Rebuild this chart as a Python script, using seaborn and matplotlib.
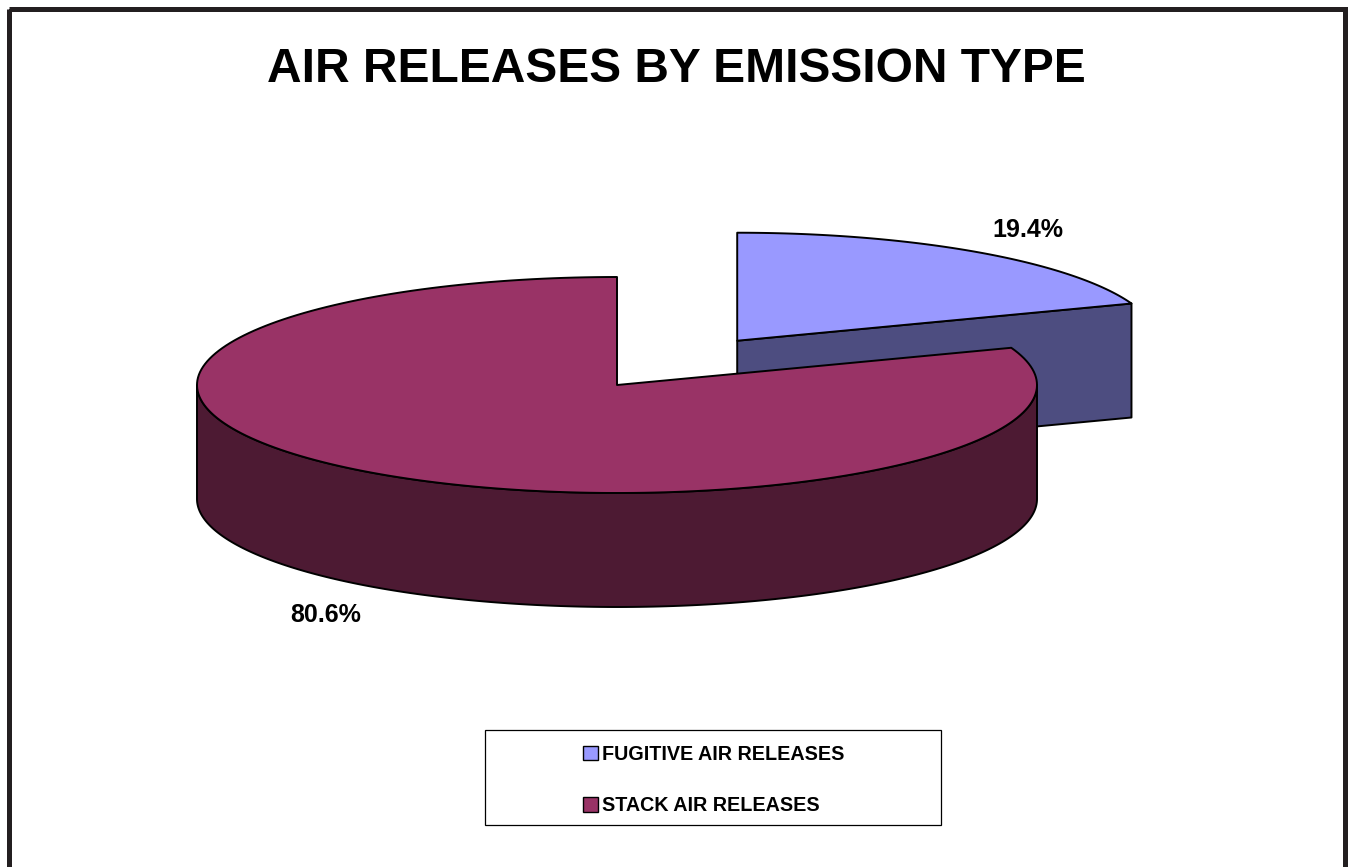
import numpy as np
import matplotlib
matplotlib.use("Agg")
import matplotlib.pyplot as plt
import seaborn as sns
from matplotlib.patches import Polygon, Rectangle

# Air releases split by emission type (percent of total)
categories = ["FUGITIVE AIR RELEASES", "STACK AIR RELEASES"]
shares = [19.4, 80.6]
top_colors = ["#9999FF", "#993366"]
side_colors = ["#4D4D80", "#4D1A33"]
explode = [0.5, 0.0]

title = "AIR RELEASES BY EMISSION TYPE"

sns.set_theme(style="white")
plt.rcParams["font.family"] = ["Liberation Sans", "DejaVu Sans"]
plt.rcParams["text.color"] = "black"

W, H = 1353, 867
fig = plt.figure(figsize=(W / 100, H / 100), dpi=100)
ax = fig.add_axes([0, 0, 1, 1])
ax.set_xlim(0, W)
ax.set_ylim(H, 0)
ax.axis("off")

# pie layout (canvas units, y grows downward)
CX, CY = 617.0, 385.0       # centre of the un-exploded top face
RX, RY = 420.0, 108.0       # ellipse radii of the tilted disc
DEPTH = 114.0               # thickness of the disc
EDGE = dict(edgecolor="black", linewidth=1.4, joinstyle="round")


def pt(t_deg, ox, oy, dz=0.0):
    t = np.radians(t_deg)
    return np.column_stack([CX + ox + RX * np.cos(t), CY + oy - RY * np.sin(t) + dz])


def arc(t_from, t_to, ox, oy, dz=0.0, n=200):
    return pt(np.linspace(t_from, t_to, n), ox, oy, dz)


def front_ranges(lo, hi):
    """Parts of [lo, hi] where the rim faces the viewer (sin < 0)."""
    out = []
    for k in range(-3, 3):
        a, b = -180 + 360 * k, 360 * k
        s, e = max(lo, a), min(hi, b)
        if e > s:
            out.append((s, e))
    return out


total = float(sum(shares))
start = 90.0
slices = []
for name, val, tc, sc, ex in zip(categories, shares, top_colors, side_colors, explode):
    sweep = val / total * 360.0
    t1, t2 = start, start - sweep
    mid = (t1 + t2) / 2.0
    ox = ex * RX * np.cos(np.radians(mid))
    oy = -ex * RY * np.sin(np.radians(mid))
    slices.append((name, val, tc, sc, t1, t2, mid, ox, oy))
    start = t2

# back slices first so the front ones cover them
order = sorted(range(len(slices)), key=lambda i: slices[i][8])
for i in order:
    name, val, tc, sc, t1, t2, mid, ox, oy = slices[i]
    apex = np.array([[CX + ox, CY + oy]])
    apex_b = apex + [0, DEPTH]
    # radial cut faces
    if np.cos(np.radians(t1)) < -1e-6:
        p = pt(t1, ox, oy)
        ax.add_patch(Polygon(np.vstack([apex, p, p + [0, DEPTH], apex_b]),
                             closed=True, facecolor=sc, **EDGE))
    if np.cos(np.radians(t2)) > 1e-6:
        p = pt(t2, ox, oy)
        ax.add_patch(Polygon(np.vstack([apex, p, p + [0, DEPTH], apex_b]),
                             closed=True, facecolor=sc, **EDGE))
    # outer rim
    for s, e in front_ranges(t2, t1):
        top = arc(e, s, ox, oy)
        bot = arc(s, e, ox, oy, DEPTH)
        ax.add_patch(Polygon(np.vstack([top, bot]), closed=True,
                             facecolor=sc, **EDGE))
    # top face
    ax.add_patch(Polygon(np.vstack([apex, arc(t1, t2, ox, oy)]), closed=True,
                         facecolor=tc, **EDGE))

# percentage labels outside each slice
for name, val, tc, sc, t1, t2, mid, ox, oy in slices:
    m = np.radians(mid)
    lx = CX + ox + 1.21 * RX * np.cos(m)
    ly = CY + oy - 1.25 * RY * np.sin(m) + (DEPTH + 5 if np.sin(m) < 0 else 0)
    ax.text(lx, ly, f"{val / total * 100:.1f}%", ha="center", va="center",
            fontsize=18, fontweight="bold", color="black")

# title
ax.text(W / 2, 69, title, ha="center", va="center",
        fontsize=34.5, fontweight="bold", color="black")

# legend in its own framed box
ax.add_patch(Rectangle((485, 730), 456, 95, facecolor="white",
                       edgecolor="black", linewidth=0.9))
handles = [Rectangle((0, 0), 1, 1, facecolor=c, edgecolor="black", linewidth=1.0)
           for c in top_colors]
ax.legend(handles, categories, loc="center", bbox_to_anchor=(714, 780),
          bbox_transform=ax.transData, frameon=False, labelcolor="black",
          prop=dict(family=["Liberation Sans"], weight="bold", size=14.2),
          handlelength=0.75, handleheight=0.75, handletextpad=0.2,
          labelspacing=1.65, borderpad=0)

# outer frame of the chart area
ax.add_patch(Rectangle((8.5, 8.5), W - 17, H + 40, fill=False,
                       edgecolor="#231F20", linewidth=3.6, clip_on=False))

fig.savefig("out.png", dpi=100, facecolor="white")
